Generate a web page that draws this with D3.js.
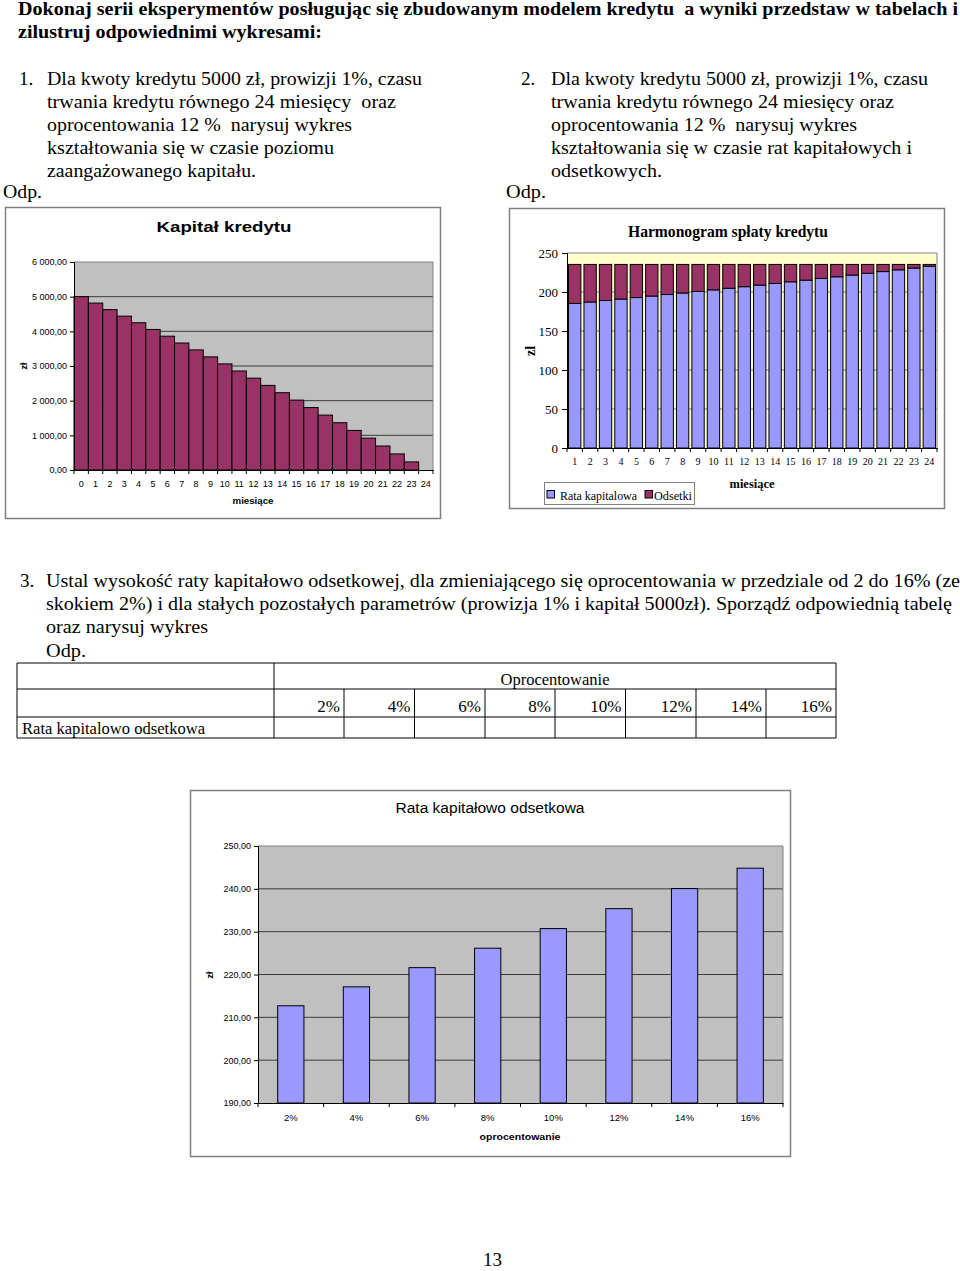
<!DOCTYPE html>
<html><head><meta charset="utf-8">
<script src="https://cdn.jsdelivr.net/npm/d3@7"></script>
<style>body{margin:0;background:#fff}svg{display:block}</style>
</head><body>
<script>
// ---------- DATA ----------
const months1 = ["0","1","2","3","4","5","6","7","8","9","10","11","12","13","14","15","16","17","18","19","20","21","22","23","24"];
const capital = [5000.00,4814.63,4627.41,4438.31,4247.32,4054.42,3859.59,3662.82,3464.08,3263.35,3060.61,2855.85,2649.04,2440.16,2229.19,2016.11,1800.90,1583.54,1364.00,1142.27,918.32,692.13,463.68,232.94];
const yTicks1 = [0,1000,2000,3000,4000,5000,6000];

const months2 = ["1","2","3","4","5","6","7","8","9","10","11","12","13","14","15","16","17","18","19","20","21","22","23","24"];
const principal = [185.37,187.22,189.10,190.99,192.90,194.83,196.77,198.74,200.73,202.74,204.76,206.81,208.88,210.97,213.08,215.21,217.36,219.54,221.73,223.95,226.19,228.45,230.74,233.04];
const interest  = [50.00,48.15,46.27,44.38,42.47,40.54,38.60,36.63,34.64,32.63,30.61,28.56,26.49,24.40,22.29,20.16,18.01,15.83,13.64,11.42,9.18,6.92,4.63,2.33];
const yTicks2 = [0,50,100,150,200,250];
const seriesNames2 = ["Rata kapitalowa","Odsetki"];

const rates3 = ["2%","4%","6%","8%","10%","12%","14%","16%"];
const installment = [212.70,217.12,221.60,226.14,230.72,235.37,240.06,244.82];
const yTicks3 = [190,200,210,220,230,240,250];

// ---------- SETUP ----------
const serif = '"Liberation Serif", "Times New Roman", serif';
const sans = '"Liberation Sans", Arial, sans-serif';
const svg = d3.select("body").append("svg").attr("width",960).attr("height",1271);
const plFmt = d3.formatLocale({decimal:",",thousands:" ",grouping:[3],currency:["",""]}).format(",.2f");

function txt(s,x,y,o={}){
  const t = svg.append("text").attr("x",x).attr("y",y).text(s)
    .attr("font-family",o.family||serif).attr("font-size",o.size||19)
    .attr("font-weight",o.weight||"normal").attr("fill","#000")
    .attr("text-anchor",o.anchor||"start").style("white-space","pre");
  if(o.len){t.attr("textLength",o.len).attr("lengthAdjust","spacingAndGlyphs");}
  if(o.rot){t.attr("transform",`rotate(-90,${x},${y})`);}
  return t;
}

// ---------- PAGE TEXT ----------
txt("Dokonaj serii eksperymentów posługując się zbudowanym modelem kredytu  a wyniki przedstaw w tabelach i",18,15,{size:18,weight:"bold",len:940});
txt("zilustruj odpowiednimi wykresami:",18,38,{size:18,weight:"bold",len:304});

txt("1.",19,85);
[["Dla kwoty kredytu 5000 zł, prowizji 1%, czasu",375],
 ["trwania kredytu równego 24 miesięcy  oraz",349],
 ["oprocentowania 12 %  narysuj wykres",305],
 ["kształtowania się w czasie poziomu",287],
 ["zaangażowanego kapitału.",209]].forEach((l,i)=>txt(l[0],47,85+23*i,{len:l[1]}));
txt("Odp.",3,198,{len:39});

txt("2.",521,85);
[["Dla kwoty kredytu 5000 zł, prowizji 1%, czasu",377],
 ["trwania kredytu równego 24 miesięcy oraz",343],
 ["oprocentowania 12 %  narysuj wykres",306],
 ["kształtowania się w czasie rat kapitałowych i",361],
 ["odsetkowych.",111]].forEach((l,i)=>txt(l[0],551,85+23*i,{len:l[1]}));
txt("Odp.",506,198,{len:40});

txt("3.",20,587);
txt("Ustal wysokość raty kapitałowo odsetkowej, dla zmieniającego się oprocentowania w przedziale od 2 do 16% (ze",46,587,{len:914});
txt("skokiem 2%) i dla stałych pozostałych parametrów (prowizja 1% i kapitał 5000zł). Sporządź odpowiednią tabelę",46,610,{len:906});
txt("oraz narysuj wykres",46,633,{len:162});
txt("Odp.",46,657,{len:40});

txt("13",483,1266,{size:19});

// ---------- TABLE ----------
(function(){
  const colX = [17,274,344,414.5,485,555,625.5,696,766,836];
  const rowY = [663,689,717,738];
  const g = svg.append("g").attr("stroke","#000").attr("stroke-width",1);
  rowY.forEach(y=>g.append("line").attr("x1",colX[0]).attr("x2",colX[9]).attr("y1",y).attr("y2",y));
  g.append("line").attr("x1",colX[0]).attr("x2",colX[0]).attr("y1",rowY[0]).attr("y2",rowY[3]);
  g.append("line").attr("x1",colX[1]).attr("x2",colX[1]).attr("y1",rowY[0]).attr("y2",rowY[3]);
  g.append("line").attr("x1",colX[9]).attr("x2",colX[9]).attr("y1",rowY[0]).attr("y2",rowY[3]);
  for(let i=2;i<9;i++) g.append("line").attr("x1",colX[i]).attr("x2",colX[i]).attr("y1",rowY[1]).attr("y2",rowY[3]);
  txt("Oprocentowanie",555,685,{size:17,anchor:"middle",len:109});
  rates3.forEach((r,i)=>txt(r,colX[i+2]-4,712,{size:17,anchor:"end"}));
  txt("Rata kapitalowo odsetkowa",22,734,{size:17,len:183});
})();

// ---------- CHART 1 ----------
(function(){
  svg.append("rect").attr("x",5.5).attr("y",207.5).attr("width",435).attr("height",311)
    .attr("fill","#fff").attr("stroke","#808080").attr("stroke-width",1.5);
  const L=74,R=433,T=262,B=470;
  const x = d3.scaleBand().domain(months1).range([L,R]).padding(0);
  const y = d3.scaleLinear().domain([0,6000]).range([B,T]);
  svg.append("rect").attr("x",L).attr("y",T).attr("width",R-L).attr("height",B-T).attr("fill","#C0C0C0");
  svg.append("g").selectAll("line").data(yTicks1.slice(1)).join("line")
    .attr("x1",L).attr("x2",R).attr("y1",d=>y(d)).attr("y2",d=>y(d))
    .attr("stroke",d=>d===6000?"#808080":"#3c3c3c").attr("stroke-width",1);
  svg.append("line").attr("x1",R).attr("x2",R).attr("y1",T).attr("y2",B).attr("stroke","#808080");
  svg.append("g").selectAll("rect").data(capital).join("rect")
    .attr("x",(d,i)=>x(months1[i])).attr("width",x.bandwidth())
    .attr("y",d=>y(d)).attr("height",d=>B-y(d))
    .attr("fill","#993366").attr("stroke","#000").attr("stroke-width",1);
  const ya = svg.append("g").attr("transform",`translate(${L},0)`)
    .call(d3.axisLeft(y).tickValues(yTicks1).tickFormat(plFmt).tickSize(4).tickPadding(3));
  ya.selectAll("text").attr("font-family",sans).attr("font-size",9).attr("fill","#000");
  ya.selectAll("line,path").attr("stroke","#000");
  const xa = svg.append("g").attr("transform",`translate(0,${B})`)
    .call(d3.axisBottom(x).tickSize(0).tickPadding(11));
  xa.selectAll("text").attr("font-family",sans).attr("font-size",9).attr("fill","#000");
  xa.select("path").attr("stroke","#000");
  svg.append("g").selectAll("line").data(months1).join("line")
    .attr("x1",d=>x(d)).attr("x2",d=>x(d)).attr("y1",B).attr("y2",B+4).attr("stroke","#000");
  svg.append("line").attr("x1",R).attr("x2",R).attr("y1",B).attr("y2",B+4).attr("stroke","#000");
  txt("Kapitał kredytu",224,232,{family:sans,size:15,weight:"bold",anchor:"middle",len:135});
  txt("miesiące",253,504,{family:sans,size:9,weight:"bold",anchor:"middle",len:41});
  txt("zł",27,366,{family:sans,size:9,weight:"bold",anchor:"middle",rot:true});
})();

// ---------- CHART 2 ----------
(function(){
  svg.append("rect").attr("x",509.5).attr("y",208.5).attr("width",435).attr("height",300)
    .attr("fill","#fff").attr("stroke","#808080").attr("stroke-width",1.5);
  const L=567,R=937,T=253,B=448;
  const x = d3.scaleBand().domain(months2).range([L,R]).paddingInner(0.2).paddingOuter(0.1);
  const y = d3.scaleLinear().domain([0,250]).range([B,T]);
  svg.append("rect").attr("x",L).attr("y",T).attr("width",R-L).attr("height",B-T).attr("fill","#FFFFCC");
  svg.append("g").selectAll("line").data(yTicks2.slice(1)).join("line")
    .attr("x1",L).attr("x2",R).attr("y1",d=>y(d)).attr("y2",d=>y(d))
    .attr("stroke","#808080").attr("stroke-width",1);
  svg.append("line").attr("x1",R).attr("x2",R).attr("y1",T).attr("y2",B).attr("stroke","#808080");
  const stack = d3.stack().keys([0,1]).value((d,k)=>d[k])(principal.map((p,i)=>[p,interest[i]]));
  const colors = ["#9999FF","#993366"];
  stack.forEach((layer,k)=>{
    svg.append("g").selectAll("rect").data(layer).join("rect")
      .attr("x",(d,i)=>x(months2[i])).attr("width",x.bandwidth())
      .attr("y",d=>y(d[1])).attr("height",d=>y(d[0])-y(d[1]))
      .attr("fill",colors[k]).attr("stroke","#000").attr("stroke-width",1);
  });
  const ya = svg.append("g").attr("transform",`translate(${L},0)`)
    .call(d3.axisLeft(y).tickValues(yTicks2).tickSize(5).tickPadding(4));
  ya.selectAll("text").attr("font-family",serif).attr("font-size",13).attr("fill","#000");
  ya.selectAll("line,path").attr("stroke","#000");
  const xa = svg.append("g").attr("transform",`translate(0,${B})`)
    .call(d3.axisBottom(x).tickSize(0).tickPadding(10));
  xa.selectAll("text").attr("font-family",serif).attr("font-size",10).attr("fill","#000");
  xa.select("path").attr("stroke","#000");
  const step = x.step();
  svg.append("g").selectAll("line").data(months2).join("line")
    .attr("x1",d=>x(d)-step*0.1).attr("x2",d=>x(d)-step*0.1).attr("y1",B).attr("y2",B+4).attr("stroke","#000");
  svg.append("line").attr("x1",R).attr("x2",R).attr("y1",B).attr("y2",B+4).attr("stroke","#000");
  txt("Harmonogram spłaty kredytu",728,237,{size:17,weight:"bold",anchor:"middle",len:200});
  txt("miesiące",752,488,{size:13,weight:"bold",anchor:"middle",len:45});
  txt("zl",535,351,{size:14,weight:"bold",anchor:"middle",rot:true});
  // legend
  svg.append("rect").attr("x",544.5).attr("y",482.5).attr("width",150).attr("height",22)
    .attr("fill","#fff").attr("stroke","#808080");
  const lg = [[547,560,77],[645,654,38]];
  seriesNames2.forEach((n,k)=>{
    svg.append("rect").attr("x",lg[k][0]).attr("y",490.5).attr("width",7.5).attr("height",7.5)
      .attr("fill",colors[k]).attr("stroke","#000");
    txt(n,lg[k][1],500,{size:12,len:lg[k][2]});
  });
})();

// ---------- CHART 3 ----------
(function(){
  svg.append("rect").attr("x",190.5).attr("y",790.5).attr("width",600).attr("height",366)
    .attr("fill","#fff").attr("stroke","#808080").attr("stroke-width",1.5);
  const L=258,R=783,T=846,B=1103;
  const x = d3.scaleBand().domain(rates3).range([L,R]).paddingInner(0.6).paddingOuter(0.3);
  const y = d3.scaleLinear().domain([190,250]).range([B,T]);
  svg.append("rect").attr("x",L).attr("y",T).attr("width",R-L).attr("height",B-T).attr("fill","#C0C0C0");
  svg.append("g").selectAll("line").data(yTicks3.slice(1)).join("line")
    .attr("x1",L).attr("x2",R).attr("y1",d=>y(d)).attr("y2",d=>y(d))
    .attr("stroke",d=>d===250?"#808080":"#3c3c3c").attr("stroke-width",1);
  svg.append("line").attr("x1",R).attr("x2",R).attr("y1",T).attr("y2",B).attr("stroke","#808080");
  svg.append("g").selectAll("rect").data(installment).join("rect")
    .attr("x",(d,i)=>x(rates3[i])).attr("width",x.bandwidth())
    .attr("y",d=>y(d)).attr("height",d=>B-y(d))
    .attr("fill","#9999FF").attr("stroke","#000").attr("stroke-width",1);
  const ya = svg.append("g").attr("transform",`translate(${L},0)`)
    .call(d3.axisLeft(y).tickValues(yTicks3).tickFormat(plFmt).tickSize(4).tickPadding(3));
  ya.selectAll("text").attr("font-family",sans).attr("font-size",9).attr("fill","#000");
  ya.selectAll("line,path").attr("stroke","#000");
  const xa = svg.append("g").attr("transform",`translate(0,${B})`)
    .call(d3.axisBottom(x).tickSize(0).tickPadding(11));
  xa.selectAll("text").attr("font-family",sans).attr("font-size",9.5).attr("fill","#000");
  xa.select("path").attr("stroke","#000");
  const step = x.step();
  svg.append("g").selectAll("line").data(rates3).join("line")
    .attr("x1",d=>x(d)-step*0.3).attr("x2",d=>x(d)-step*0.3).attr("y1",B).attr("y2",B+4).attr("stroke","#000");
  svg.append("line").attr("x1",R).attr("x2",R).attr("y1",B).attr("y2",B+4).attr("stroke","#000");
  txt("Rata kapitałowo odsetkowa",490,813,{family:sans,size:14,anchor:"middle",len:189});
  txt("oprocentowanie",520,1140,{family:sans,size:9,weight:"bold",anchor:"middle",len:81});
  txt("zł",213,975,{family:sans,size:9,weight:"bold",anchor:"middle",rot:true});
})();
</script>
</body></html>
